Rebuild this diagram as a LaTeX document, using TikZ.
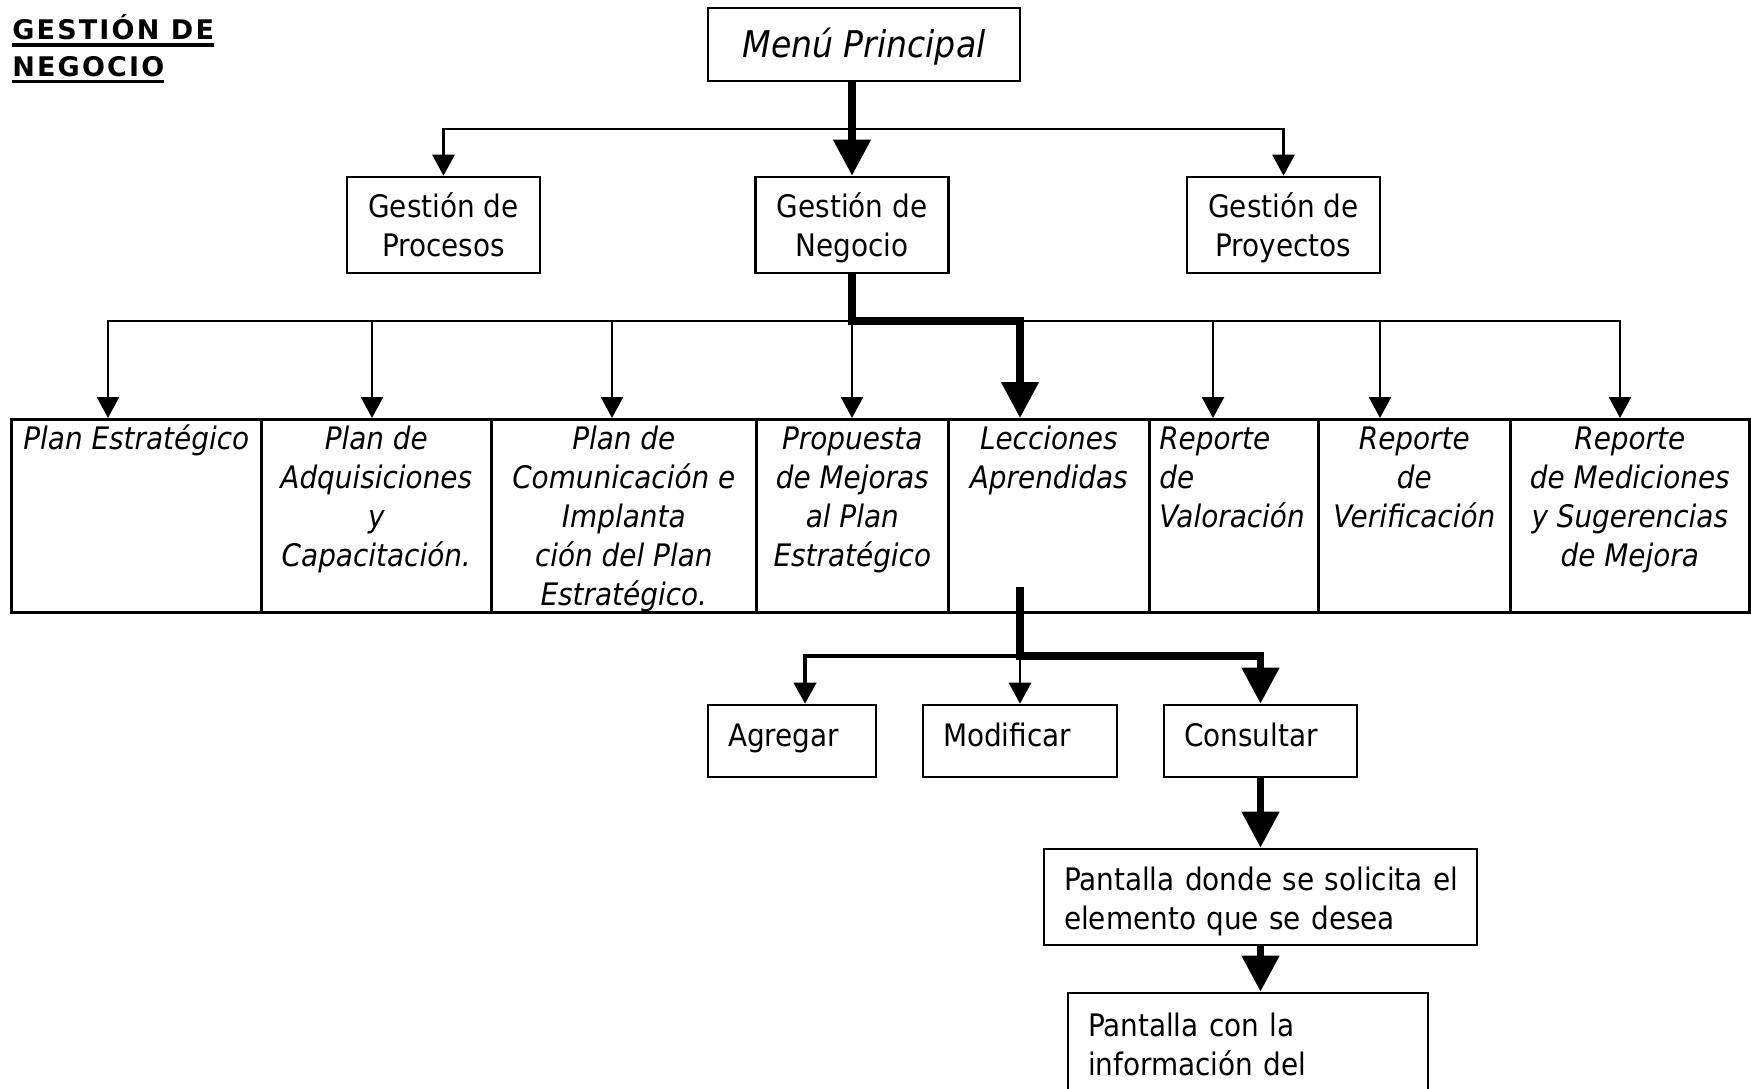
\documentclass[tikz,border=0pt]{standalone}
\usepackage{fontspec}
\setmainfont{DejaVu Sans Condensed}[ItalicFont={DejaVu Sans Condensed Oblique},BoldFont={DejaVu Sans Condensed Bold}]
\newfontfamily\titulofont{DejaVu Sans}[LetterSpace=8]
\usetikzlibrary{arrows.meta}
% subrayado grueso del titulo
\newcommand{\subrayado}[1]{\setbox0\hbox{#1}\rlap{\rule[-3.6pt]{\wd0}{1.6pt}}\box0}
% texto de una celda de la fila, pegado arriba
\newcommand{\celda}[3]{\parbox[c][96.5pt][t]{#1}{\vspace*{1.3pt}#2\strut #3}}

\begin{document}
\begin{tikzpicture}[x=0.5pt,y=-0.5pt,
    font=\fontsize{15.5}{19.5}\selectfont,
    caja/.style={draw,line width=1.3pt,inner xsep=10pt,inner ysep=0pt},
    celda/.style={draw,line width=1.3pt,inner sep=0pt,anchor=north west,font=\fontsize{15.5}{19.5}\selectfont\itshape},
    flecha/.style={line width=1.35pt,-{Triangle[length=10.5pt,width=11pt]}},
    flechagruesa/.style={line width=3.75pt,-{Triangle[length=18pt,width=18pt]}}]
  \useasboundingbox (0,0) rectangle (1751,1088);
  \clip (0,0) rectangle (1751,1088);

  \node[anchor=base west,align=left,inner sep=0pt,font=\titulofont\fontsize{13.5}{18.35}\selectfont\bfseries] (titulo) at (12,76) {\subrayado{GESTIÓN DE}\\\subrayado{NEGOCIO}};

  % menu y gestiones
  \node[caja,minimum width=156pt,minimum height=36.5pt,text depth=2pt,font=\fontsize{18.4}{22}\selectfont\itshape] (menu) at (864,44.5) {Menú Principal};
  \node[caja,minimum width=96.5pt,minimum height=48pt,text depth=-1.5pt,align=center] (gp) at (443.5,225) {Gestión de\\Procesos};
  \node[caja,minimum width=96.5pt,minimum height=48pt,text depth=-1.5pt,align=center] (gn) at (852,225) {Gestión de\\Negocio};
  \node[caja,minimum width=96.5pt,minimum height=48pt,text depth=-1.5pt,align=center] (gy) at (1283.5,225) {Gestión de\\Proyectos};

  % fila de opciones
  \node[celda] (pe) at (10,418) {\celda{125pt}{\centering}{Plan Estratégico}};
  \node[celda] (adq) at (260,418) {\celda{115pt}{\centering}{Plan de\\Adquisiciones\\y\\Capacitación.}};
  \node[celda] (com) at (490,418) {\celda{132.5pt}{\centering}{Plan de\\Comunicación e\\Implanta\\ción del Plan\\Estratégico.}};
  \node[celda] (prop) at (755,418) {\celda{96pt}{\centering}{Propuesta\\de Mejoras\\al Plan\\Estratégico}};
  \node[celda] (lecc) at (947,418) {\celda{100.5pt}{\centering}{Lecciones\\Aprendidas}};
  \node[celda] (val) at (1148,418) {\celda{84.5pt}{\raggedright\leftskip=5pt}{Reporte\\de\\Valoración}};
  \node[celda] (ver) at (1317,418) {\celda{96pt}{\centering}{Reporte\\de\\Verificación}};
  \node[celda] (med) at (1509,418) {\celda{119.5pt}{\centering}{Reporte\\de Mediciones\\y Sugerencias\\de Mejora}};

  % acciones
  \node[caja,minimum width=84pt,minimum height=36pt,text height=11.5pt,text depth=6.3pt,text width=64pt,align=left] (agr) at (792,741) {Agregar};
  \node[caja,minimum width=97pt,minimum height=36pt,text height=11.5pt,text depth=6.3pt,text width=77pt,align=left] (mod) at (1020,741) {Modificar};
  \node[caja,minimum width=96.5pt,minimum height=36pt,text height=11.5pt,text depth=6.3pt,text width=76.5pt,align=left] (cons) at (1260.5,741) {Consultar};
  \node[caja,minimum width=216.5pt,minimum height=48pt,text height=16pt,text width=196.5pt,align=left] (pd) at (1260.5,897) {\mbox{Pantalla donde se solicita el}\\\mbox{elemento que se desea}};
  \node[caja,minimum width=180pt,minimum height=51pt,text width=160pt,align=left] (pc) at (1248,1044) {Pantalla con la\\información del};

  \coordinate (bus1) at (852,129);
  \coordinate (bus2) at (852,321);
  \coordinate (bus3) at (1020,656);

  \draw[flecha] (bus1) -| (gp.north);
  \draw[flecha] (bus1) -| (gy.north);
  \draw[flechagruesa] (menu.south -| gn.north) -- (gn.north);

  \foreach \c/\x in {pe/108,adq/372,com/612,prop/852,val/1213,ver/1380,med/1620}
    \draw[flecha] (bus2) -| (\c.north -| \x,0);
  \draw[flechagruesa] (gn.south) -- (bus2) -| (lecc.north -| 1020,0);

  \draw[flecha,line width=2pt] (bus3) -| ([xshift=6.5pt]agr.north);
  \draw[flecha] (bus3) -- (mod.north);
  \draw[flechagruesa] ([yshift=13.5pt]lecc.south -| bus3) -- (bus3) -| (cons.north);
  \draw[flechagruesa] (cons.south) -- (pd.north);
  \draw[flechagruesa] (pd.south) -- (pc.north -| pd.south);
\end{tikzpicture}
\end{document}
